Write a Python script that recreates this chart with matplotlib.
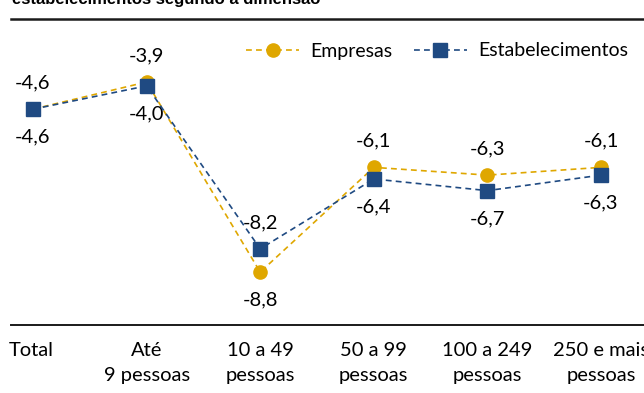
import matplotlib
matplotlib.use("Agg")
import matplotlib.pyplot as plt
from matplotlib.transforms import ScaledTranslation

# data
categories = ["Total", "Até\n9 pessoas", "10 a 49\npessoas", "50 a 99\npessoas",
              "100 a 249\npessoas", "250 e mais\npessoas"]
empresas = [-4.6, -3.9, -8.8, -6.1, -6.3, -6.1]
estabelecimentos = [-4.6, -4.0, -8.2, -6.4, -6.7, -6.3]

gold = "#DFA700"
navy = "#1F4A82"

plt.rcParams["font.family"] = ["Lato", "DejaVu Sans"]

fig = plt.figure(figsize=(6.44, 3.93), dpi=100)
W, H = 644, 393
# axes box in pixels: left 11, right 644, top 19, bottom 325
ax = fig.add_axes([11 / W, 1 - 325 / H, (644 - 11) / W, (325 - 19) / H])

x = list(range(len(categories)))
ax.plot(x, empresas, color=gold, lw=1.2, dashes=(3.5, 2.5), marker="o",
        markersize=9.5, markeredgecolor=gold, label="Empresas", zorder=3)
ax.plot(x, estabelecimentos, color=navy, lw=1.2, dashes=(3.5, 2.5), marker="s",
        markersize=9.5, markeredgecolor=navy, label="Estabelecimentos", zorder=4)

# value labels: higher value above the point, lower below
for i in x:
    e, s = empresas[i], estabelecimentos[i]
    if e >= s:
        above, below = e, s
    else:
        above, below = s, e
    ax.annotate(f"{above:.1f}".replace(".", ","), (i, above), xytext=(0, 19),
                textcoords="offset points", ha="center", va="center", fontsize=14.5)
    ax.annotate(f"{below:.1f}".replace(".", ","), (i, below), xytext=(0, -20),
                textcoords="offset points", ha="center", va="center", fontsize=14.5)

ax.set_xlim(-22 / 113.6, 5 + 43 / 113.6)
ax.set_ylim(-3.9 - 243 / 38.8, -3.9 + 63 / 38.8)

ax.set_xticks(x)
ax.set_xticklabels(categories, fontsize=14.5, linespacing=1.6)
ax.tick_params(axis="x", length=0, pad=12)
ax.set_yticks([])
# "Total" sits a bit left of its point in the original
first = ax.get_xticklabels()[0]
first.set_transform(first.get_transform() + ScaledTranslation(-2 / 100, 0, fig.dpi_scale_trans))

for side in ["left", "right"]:
    ax.spines[side].set_visible(False)
ax.spines["top"].set_linewidth(1.8)
ax.spines["top"].set_color("#1a1a1a")
ax.spines["bottom"].set_linewidth(1.4)
ax.spines["bottom"].set_color("#1a1a1a")

ax.legend(loc="center right", bbox_to_anchor=(636 / W, 1 - 51 / H),
          bbox_transform=fig.transFigure, ncol=2, frameon=False,
          fontsize=14, handlelength=2.7, handletextpad=0.6, columnspacing=1.1,
          borderaxespad=0)

# title, mostly cut off by the top edge
fig.text(12 / W, 1 - 4 / H, "estabelecimentos segundo a dimensão",
         fontsize=12, fontweight="bold", family="Liberation Sans",
         ha="left", va="baseline")

fig.savefig("out.png", dpi=100)
